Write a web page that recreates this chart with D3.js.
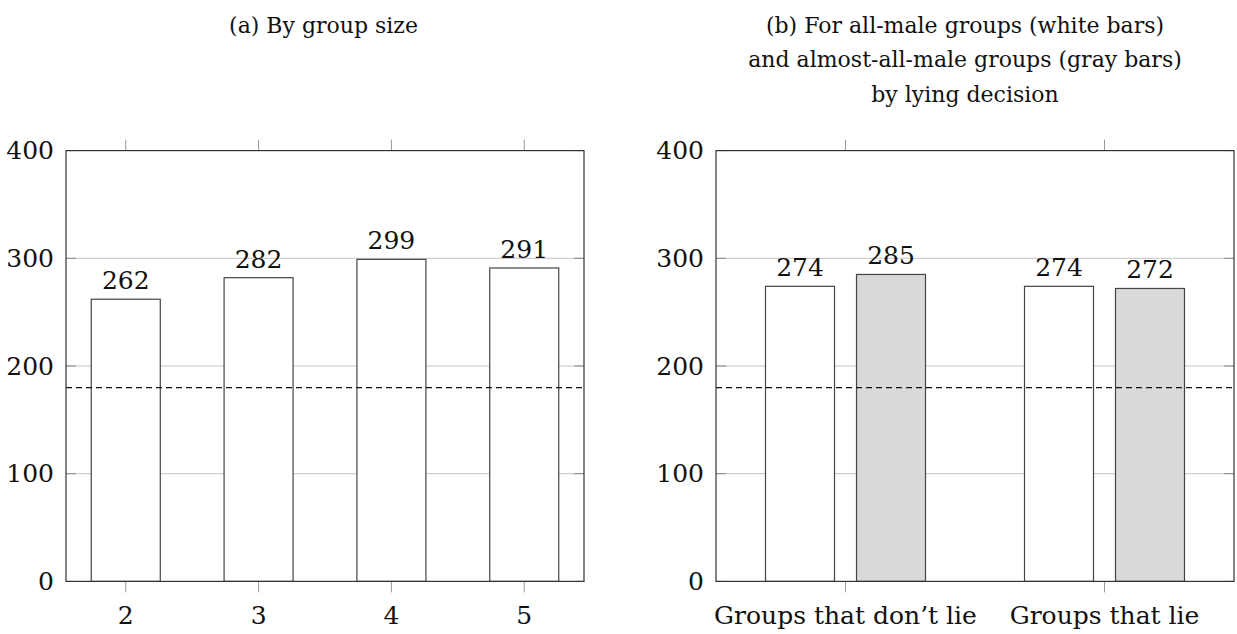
<!DOCTYPE html>
<html>
<head>
<meta charset="utf-8">
<script src="https://cdn.jsdelivr.net/npm/d3@7"></script>
<style>
  body { margin: 0; background: #fff; }
  svg text { fill: #111; }
</style>
</head>
<body>
<svg id="chart"></svg>
<script>
// panel (a): by group size
let sizeCats = [2, 3, 4, 5];
let sizeVals = [262, 282, 299, 291];
// panel (b): by lying decision
let lieCats = ["Groups that don\u2019t lie", "Groups that lie"];
let allMaleVals = [274, 274]; // white bars
let almostMaleVals = [285, 272]; // gray bars
let refLine = 180;
let yTicks = [0, 100, 200, 300, 400];
let titleA = ["(a) By group size"];
let titleB = [
  "(b) For all-male groups (white bars)",
  "and almost-all-male groups (gray bars)",
  "by lying decision",
];

let width = 1237,
  height = 634;
let top_y = 150.6,
  bottom_y = 581.4;
let barW = 69;
let serif = "DejaVu Serif";
let fsTick = "25px",
  fsTitle = "22px";

let svg = d3
  .select("#chart")
  .attr("width", width)
  .attr("height", height)
  .style("font-family", serif);

let y = d3.scaleLinear().domain([0, 400]).range([bottom_y, top_y]);

function drawGrid(g, x0, x1) {
  g.selectAll(".grid")
    .data(yTicks.filter((d) => d > 0 && d < 400))
    .enter()
    .append("line")
    .attr("x1", x0)
    .attr("x2", x1)
    .attr("y1", (d) => y(d))
    .attr("y2", (d) => y(d))
    .attr("stroke", "#c4c4c4")
    .attr("stroke-width", 1);
}

function drawAxes(g, x, x0, x1, tickPos, tickLabels) {
  // y ticks inside, both sides
  yTicks.forEach((t) => {
    g.append("line")
      .attr("x1", x0).attr("x2", x0 + 10)
      .attr("y1", y(t)).attr("y2", y(t))
      .attr("stroke", "#888");
    g.append("line")
      .attr("x1", x1 - 10).attr("x2", x1)
      .attr("y1", y(t)).attr("y2", y(t))
      .attr("stroke", "#888");
    g.append("text")
      .attr("x", x0 - 12)
      .attr("y", y(t))
      .attr("dy", "0.35em")
      .attr("text-anchor", "end")
      .style("font-family", serif)
      .style("font-size", fsTick)
      .text(t);
  });
  // x ticks outside, top and bottom
  tickPos.forEach((p, i) => {
    g.append("line")
      .attr("x1", x(p)).attr("x2", x(p))
      .attr("y1", bottom_y).attr("y2", bottom_y + 11)
      .attr("stroke", "#999");
    g.append("line")
      .attr("x1", x(p)).attr("x2", x(p))
      .attr("y1", top_y - 11).attr("y2", top_y)
      .attr("stroke", "#999");
    g.append("text")
      .attr("x", x(p))
      .attr("y", 624)
      .attr("text-anchor", "middle")
      .style("font-family", serif)
      .style("font-size", fsTick)
      .text(tickLabels[i]);
  });
  g.append("rect")
    .attr("x", x0)
    .attr("y", top_y)
    .attr("width", x1 - x0)
    .attr("height", bottom_y - top_y)
    .attr("fill", "none")
    .attr("stroke", "#333")
    .attr("stroke-width", 1.2);
}

function drawBars(g, x, cats, vals, offset, fill) {
  g.selectAll(null)
    .data(vals)
    .enter()
    .append("rect")
    .attr("x", (d, i) => x(cats[i]) + offset - barW / 2)
    .attr("y", (d) => y(d))
    .attr("width", barW)
    .attr("height", (d) => y(0) - y(d))
    .attr("fill", fill)
    .attr("stroke", "#444")
    .attr("stroke-width", 1.2);
  g.selectAll(null)
    .data(vals)
    .enter()
    .append("text")
    .attr("x", (d, i) => x(cats[i]) + offset)
    .attr("y", (d) => y(d) - 10)
    .attr("text-anchor", "middle")
    .style("font-family", serif)
    .style("font-size", fsTick)
    .text((d) => d);
}

function drawRef(g, x0, x1) {
  g.append("line")
    .attr("x1", x0)
    .attr("x2", x1)
    .attr("y1", y(refLine))
    .attr("y2", y(refLine))
    .attr("stroke", "#111")
    .attr("stroke-width", 1.2)
    .attr("stroke-dasharray", "6,4");
}

function drawTitle(g, lines, cx) {
  lines.forEach((l, i) => {
    g.append("text")
      .attr("x", cx)
      .attr("y", 33 + i * 34.4)
      .attr("text-anchor", "middle")
      .style("font-family", serif)
      .style("font-size", fsTitle)
      .text(l);
  });
}

// panel a
let ax0 = 66, ax1 = 584;
let xa = d3.scaleLinear().domain([1.55, 5.45]).range([ax0, ax1]);
let ga = svg.append("g");
drawGrid(ga, ax0, ax1);
drawBars(ga, xa, sizeCats, sizeVals, 0, "#fff");
drawRef(ga, ax0, ax1);
drawAxes(ga, xa, ax0, ax1, sizeCats, sizeCats);
drawTitle(ga, titleA, 323.5);

// panel b
let bx0 = 716, bx1 = 1234;
let lieIdx = lieCats.map((d, i) => i + 1);
let xb = d3.scaleLinear().domain([0.5, 2.5]).range([bx0, bx1]);
let gb = svg.append("g");
drawGrid(gb, bx0, bx1);
drawBars(gb, xb, lieIdx, allMaleVals, -45.5, "#fff");
drawBars(gb, xb, lieIdx, almostMaleVals, 45.5, "#d9d9d9");
drawRef(gb, bx0, bx1);
drawAxes(gb, xb, bx0, bx1, lieIdx, lieCats);
drawTitle(gb, titleB, 965);
</script>
</body>
</html>
